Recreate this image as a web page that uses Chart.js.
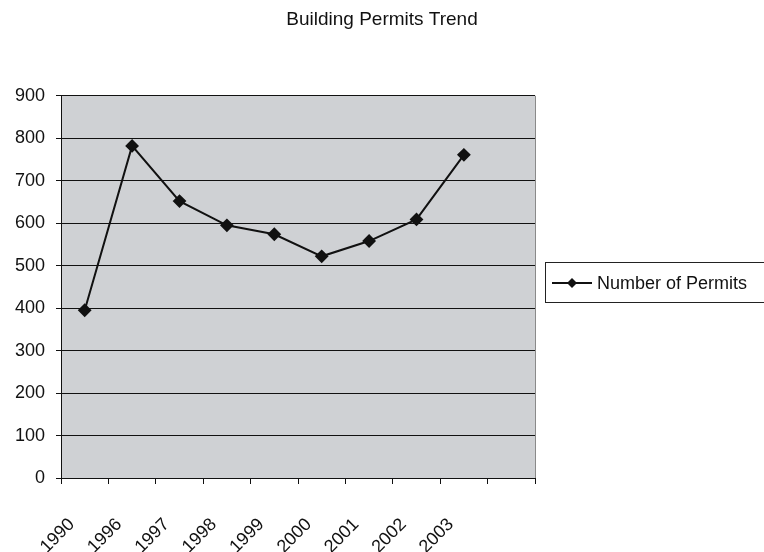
<!DOCTYPE html>
<html>
<head>
<meta charset="utf-8">
<script src="https://cdn.jsdelivr.net/npm/chart.js@4"></script>
<style>
html,body{margin:0;padding:0;background:#fff;}
#wrap{width:764px;height:552px;position:relative;}
</style>
</head>
<body>
<div id="wrap"><canvas id="c" width="764" height="552"></canvas></div>
<script>
const categories = ["1990","1996","1997","1998","1999","2000","2001","2002","2003",""];
const permits = [395, 782, 652, 595, 574, 522, 558, 609, 761, null];
const yTicks = [0,100,200,300,400,500,600,700,800,900];
const seriesName = "Number of Permits";
const chartTitle = "Building Permits Trend";

const FONT = "'Liberation Sans', Arial, sans-serif";

const plotBg = {
  id: 'plotBg',
  beforeDraw(chart) {
    const {ctx, chartArea: a} = chart;
    ctx.save();
    ctx.fillStyle = '#cfd1d4';
    ctx.fillRect(a.left, a.top, a.right - a.left, a.bottom - a.top);
    ctx.restore();
  },
  afterDatasetsDraw(chart) {
    const {ctx, chartArea: a} = chart;
    ctx.save();
    ctx.strokeStyle = '#8a8a8a';
    ctx.lineWidth = 1;
    ctx.beginPath();
    ctx.moveTo(a.right + 0.5, a.top);
    ctx.lineTo(a.right + 0.5, a.bottom);
    ctx.stroke();
    ctx.restore();
  }
};

const customLegend = {
  id: 'customLegend',
  afterDraw(chart) {
    const {ctx} = chart;
    const ds = chart.data.datasets[0];
    const bx = 545, by = 262, bw = 240, bh = 40;
    ctx.save();
    ctx.fillStyle = '#fff';
    ctx.fillRect(bx, by, bw, bh);
    ctx.strokeStyle = '#222';
    ctx.lineWidth = 1;
    ctx.strokeRect(bx + 0.5, by + 0.5, bw, bh);
    const ly = by + 21;
    ctx.strokeStyle = ds.borderColor;
    ctx.lineWidth = 2;
    ctx.beginPath();
    ctx.moveTo(bx + 7, ly);
    ctx.lineTo(bx + 47, ly);
    ctx.stroke();
    ctx.fillStyle = ds.pointBackgroundColor;
    const cx = bx + 27, r = 5;
    ctx.beginPath();
    ctx.moveTo(cx, ly - r);
    ctx.lineTo(cx + r, ly);
    ctx.lineTo(cx, ly + r);
    ctx.lineTo(cx - r, ly);
    ctx.closePath();
    ctx.fill();
    ctx.fillStyle = '#111';
    ctx.font = "18px " + FONT;
    ctx.textBaseline = 'middle';
    ctx.textAlign = 'left';
    ctx.fillText(ds.label, bx + 52, ly + 1);
    ctx.restore();
  }
};

new Chart(document.getElementById('c'), {
  type: 'line',
  data: {
    labels: categories,
    datasets: [{
      label: seriesName,
      data: permits,
      borderColor: '#111',
      backgroundColor: '#111',
      pointBackgroundColor: '#111',
      pointBorderColor: '#111',
      borderWidth: 2,
      pointStyle: 'rectRot',
      pointRadius: 5.5,
      tension: 0,
      spanGaps: false,
      yAxisID: 'y'
    }]
  },
  options: {
    responsive: false,
    animation: false,
    devicePixelRatio: 1,
    layout: { padding: { left: 0, right: 0, top: 0, bottom: 0 } },
    plugins: {
      legend: { display: false },
      tooltip: { enabled: false },
      title: {
        display: true,
        text: chartTitle,
        color: '#111',
        font: { family: FONT, size: 19, weight: 'normal' },
        padding: { top: 8, bottom: 65 }
      }
    },
    scales: {
      x: {
        type: 'category',
        offset: true,
        grid: {
          display: true,
          offset: true,
          drawOnChartArea: false,
          drawTicks: true,
          tickLength: 6,
          color: '#111',
          lineWidth: 1
        },
        border: { display: true, color: '#111', width: 1 },
        ticks: {
          color: '#111',
          font: { family: FONT, size: 18 },
          minRotation: 45,
          maxRotation: 45,
          autoSkip: false,
          padding: 30,
          labelOffset: -13
        },
        afterFit(scale) { scale.height = 74; }
      },
      y: {
        min: 0,
        max: 900,
        afterBuildTicks(scale) { scale.ticks = yTicks.map(v => ({value: v})); },
        grid: {
          color: '#111',
          lineWidth: 1,
          drawTicks: true,
          tickLength: 5
        },
        border: { display: true, color: '#111', width: 1 },
        ticks: {
          color: '#111',
          font: { family: FONT, size: 18 },
          padding: 11
        },
        afterFit(scale) { scale.width = 61; }
      },
      spacer: {
        type: 'linear',
        position: 'right',
        display: true,
        grid: { display: false, drawTicks: false },
        border: { display: false },
        ticks: { display: false },
        afterFit(scale) { scale.width = 229; }
      }
    }
  },
  plugins: [plotBg, customLegend]
});
</script>
</body>
</html>
